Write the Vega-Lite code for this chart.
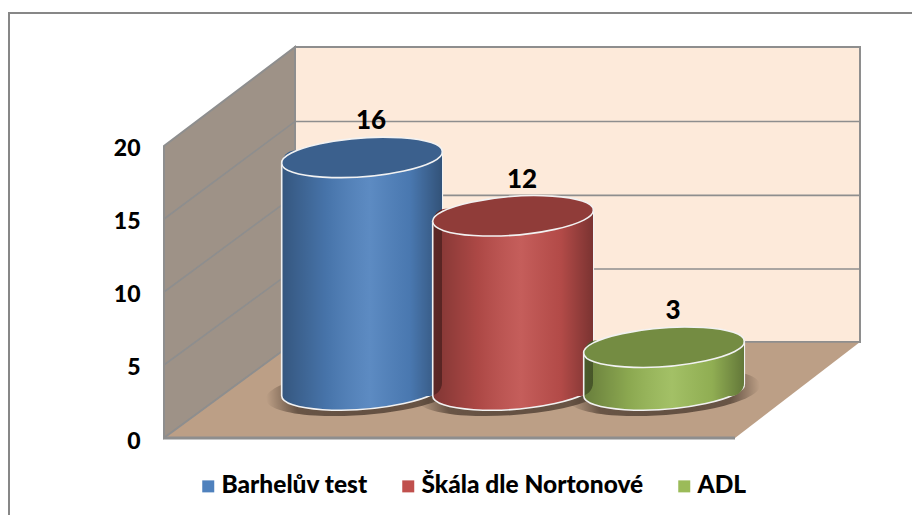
{
"$schema":"https://vega.github.io/schema/vega-lite/v6.json",
"width":696,"height":391,
"autosize":"none",
"padding":{"left":164,"top":47,"right":52,"bottom":77},
"background":"#ffffff",
"config":{"view":{"stroke":null},"font":"Lato"},
"datasets":{
"bars":[{"name":"Barhelův test","value":16},{"name":"Škála dle Nortonové","value":12},{"name":"ADL","value":3}],
"frame":[{"x":-155,"x2":800,"y":29.11,"y2":-10}],
"side":[{"x":0,"lo":0,"hi":20},{"x":131,"lo":6.58,"hi":26.78}],
"back":[{"x":131,"lo":6.58,"hi":26.78},{"x":696,"lo":6.58,"hi":26.78}],
"floor":[{"x":0,"lo":0,"hi":0},{"x":131,"lo":0,"hi":6.58},{"x":571,"lo":0,"hi":6.58},{"x":696,"lo":6.58,"hi":6.58}],
"front":[{"x":0,"v":0},{"x":571,"v":0}],
"grid":[
{"level":5,"x":0,"v":5},{"level":5,"x":131,"v":11.58},{"level":5,"x":696,"v":11.58},
{"level":10,"x":0,"v":10},{"level":10,"x":131,"v":16.62},{"level":10,"x":696,"v":16.62},
{"level":15,"x":0,"v":15},{"level":15,"x":131,"v":21.68},{"level":15,"x":696,"v":21.68},
{"level":0,"x":0,"v":0},{"level":0,"x":131,"v":6.58},{"level":0,"x":696,"v":6.58}
]
},
"resolve":{"scale":{"x":"independent"}},
"layer":[
{"layer":[
{"data":{"name":"frame"},"mark":{"type":"rect","fill":"transparent","stroke":"#878787","strokeWidth":2},
 "encoding":{"x":{"field":"x","type":"quantitative","axis":null,"scale":{"domain":[0,696],"range":[0,696],"nice":false,"zero":false}},"x2":{"field":"x2"},
 "y":{"field":"y","type":"quantitative","title":null,"scale":{"domain":[0,26.78],"nice":false,"zero":false},
  "axis":{"values":[0,5,10,15,20],"domain":false,"ticks":false,"grid":false,"labelFont":"Lato","labelFontWeight":900,"labelFontSize":23,"labelColor":"#000000","labelPadding":24,"labelOffset":3,"title":null}},"y2":{"field":"y2"}}},
{"data":{"name":"back"},"mark":{"type":"area","fill":"#FDEADA","stroke":"#8E8E8E","strokeWidth":2,"opacity":1},
 "encoding":{"x":{"field":"x","type":"quantitative"},"y":{"field":"lo","type":"quantitative"},"y2":{"field":"hi"}}},
{"data":{"name":"side"},"mark":{"type":"area","fill":"#9E9287","stroke":"#8E8E8E","strokeWidth":2,"opacity":1},
 "encoding":{"x":{"field":"x","type":"quantitative"},"y":{"field":"lo","type":"quantitative"},"y2":{"field":"hi"}}},
{"data":{"name":"floor"},"mark":{"type":"area","fill":"#BC9F86","opacity":1},
 "encoding":{"x":{"field":"x","type":"quantitative"},"y":{"field":"lo","type":"quantitative"},"y2":{"field":"hi"}}},
{"data":{"name":"grid"},"mark":{"type":"line","stroke":"#8E8E8E","strokeWidth":1.6},
 "encoding":{"x":{"field":"x","type":"quantitative"},"y":{"field":"v","type":"quantitative"},"detail":{"field":"level"},"order":{"field":"x"}}},
{"data":{"name":"front"},"mark":{"type":"line","stroke":"#8E8E8E","strokeWidth":3},
 "encoding":{"x":{"field":"x","type":"quantitative"},"y":{"field":"v","type":"quantitative"}}}
]},
{"data":{"name":"bars"},
 "encoding":{
  "x":{"field":"name","type":"nominal","axis":null,"sort":null,"scale":{"type":"point","domain":["Barhelův test","Škála dle Nortonové","ADL"],"range":[198,500],"padding":0}},
  "color":{"field":"name","type":"nominal","scale":{"domain":["Barhelův test","Škála dle Nortonové","ADL"],"range":["#4F81BD","#C0504D","#9BBB59"]},
   "legend":{"orient":"none","legendX":32,"legendY":427,"direction":"horizontal","title":null,"symbolType":"square","symbolSize":144,"symbolStrokeWidth":0,"labelFont":"Lato","labelFontWeight":900,"labelFontSize":24.5,"labelColor":"#000000","labelLimit":400,"columnPadding":28,"labelOffset":1,"symbolOpacity":1}}
 },
 "layer":[
 {"mark":{"type":"point","filled":true,"opacity":1,"size":37000,"yOffset":-46,"fill":{"gradient":"radial","x1":0.5,"y1":0.5,"r1":0,"x2":0.5,"y2":0.5,"r2":0.5,"stops":[{"offset":0,"color":"rgba(60,45,35,0.7)"},{"offset":0.7,"color":"rgba(60,45,35,0.65)"},{"offset":1,"color":"rgba(60,45,35,0)"}]},
  "shape":"M-0.997,0.075A1,0.235,-4.3,1,1,0.997,-0.075A1,0.235,-4.3,1,1,-0.997,0.075Z"},
  "encoding":{"y":{"datum":0,"type":"quantitative"},"color":{"value":null}}},
 {"mark":{"type":"point","filled":true,"opacity":1,"size":25921,"yOffset":-48,"shape":"M-0.997,0.075A1,0.235,-4.3,1,1,0.997,-0.075A1,0.235,-4.3,1,1,-0.997,0.075Z"},
  "encoding":{"y":{"datum":0,"type":"quantitative"}}},
 {"mark":{"type":"point","filled":true,"opacity":1,"size":25921,"yOffset":-48,"shape":"M-0.997,0.075A1,0.235,-4.3,1,1,0.997,-0.075A1,0.235,-4.3,1,1,-0.997,0.075Z",
   "fill":{"gradient":"linear","x1":0,"y1":0,"x2":1,"y2":0,"stops":[{"offset":0,"color":"rgba(0,0,0,0.33)"},{"offset":0.28,"color":"rgba(0,0,0,0.1)"},{"offset":0.55,"color":"rgba(255,255,255,0.08)"},{"offset":0.8,"color":"rgba(0,0,0,0.07)"},{"offset":1,"color":"rgba(0,0,0,0.36)"}]}},
  "encoding":{"y":{"datum":0,"type":"quantitative"},"color":{"value":null}}},
 {"mark":{"type":"point","filled":false,"fill":"transparent","stroke":"#F2F2F2","strokeWidth":1.6,"opacity":1,"size":25921,"yOffset":-48,"shape":"M-0.997,0.075A1,0.235,-4.3,1,1,0.997,-0.075A1,0.235,-4.3,1,1,-0.997,0.075Z"},
  "encoding":{"y":{"datum":0,"type":"quantitative"},"color":{"value":null}}},
 {"mark":{"type":"rule","stroke":"#F2F2F2","strokeWidth":1.6,"xOffset":80.3,"yOffset":-54,"y2Offset":-54},
  "encoding":{"y":{"field":"value","type":"quantitative"},"y2":{"datum":0},"color":{"value":null}}},
 {"mark":{"type":"bar","size":160,"cornerRadiusTopLeft":13,"cornerRadiusBottomRight":13,"yOffset":-54,"y2Offset":-42},
  "encoding":{"y":{"field":"value","type":"quantitative","stack":null},"y2":{"datum":0}}},
 {"mark":{"type":"bar","size":160,"cornerRadiusTopLeft":13,"cornerRadiusBottomRight":13,"yOffset":-54,"y2Offset":-42,
   "fill":{"gradient":"linear","x1":0,"y1":0,"x2":1,"y2":0,"stops":[{"offset":0,"color":"rgba(0,0,0,0.33)"},{"offset":0.28,"color":"rgba(0,0,0,0.1)"},{"offset":0.55,"color":"rgba(255,255,255,0.08)"},{"offset":0.8,"color":"rgba(0,0,0,0.07)"},{"offset":1,"color":"rgba(0,0,0,0.36)"}]}},
  "encoding":{"y":{"field":"value","type":"quantitative","stack":null},"y2":{"datum":0},"color":{"value":null}}},
 {"mark":{"type":"rule","stroke":"#F2F2F2","strokeWidth":1.6,"xOffset":-80.3,"yOffset":-42,"y2Offset":-42},
  "encoding":{"y":{"field":"value","type":"quantitative"},"y2":{"datum":0},"color":{"value":null}}},
 {"mark":{"type":"point","filled":true,"opacity":1,"size":25921,"yOffset":-47,"shape":"M-0.997,0.075A1,0.235,-4.3,1,1,0.997,-0.075A1,0.235,-4.3,1,1,-0.997,0.075Z"},
  "encoding":{"y":{"field":"value","type":"quantitative"}}},
 {"mark":{"type":"point","filled":true,"opacity":1,"size":25921,"yOffset":-47,"fill":"rgba(0,0,0,0.25)","shape":"M-0.997,0.075A1,0.235,-4.3,1,1,0.997,-0.075A1,0.235,-4.3,1,1,-0.997,0.075Z"},
  "encoding":{"y":{"field":"value","type":"quantitative"},"color":{"value":null}}},
 {"mark":{"type":"point","filled":false,"fill":"transparent","stroke":"#F2F2F2","strokeWidth":1.6,"opacity":1,"size":25921,"yOffset":-47,"shape":"M-0.997,0.075A1,0.235,-4.3,1,1,0.997,-0.075A1,0.235,-4.3,1,1,-0.997,0.075Z"},
  "encoding":{"y":{"field":"value","type":"quantitative"},"color":{"value":null}}},
 {"mark":{"type":"text","font":"Lato","fontWeight":900,"fontSize":26,"fill":"#000000","dx":9,"yOffset":-83,"baseline":"middle"},
  "encoding":{"y":{"field":"value","type":"quantitative"},"text":{"field":"value","type":"quantitative"},"color":{"value":null}}}
 ]}
]}
